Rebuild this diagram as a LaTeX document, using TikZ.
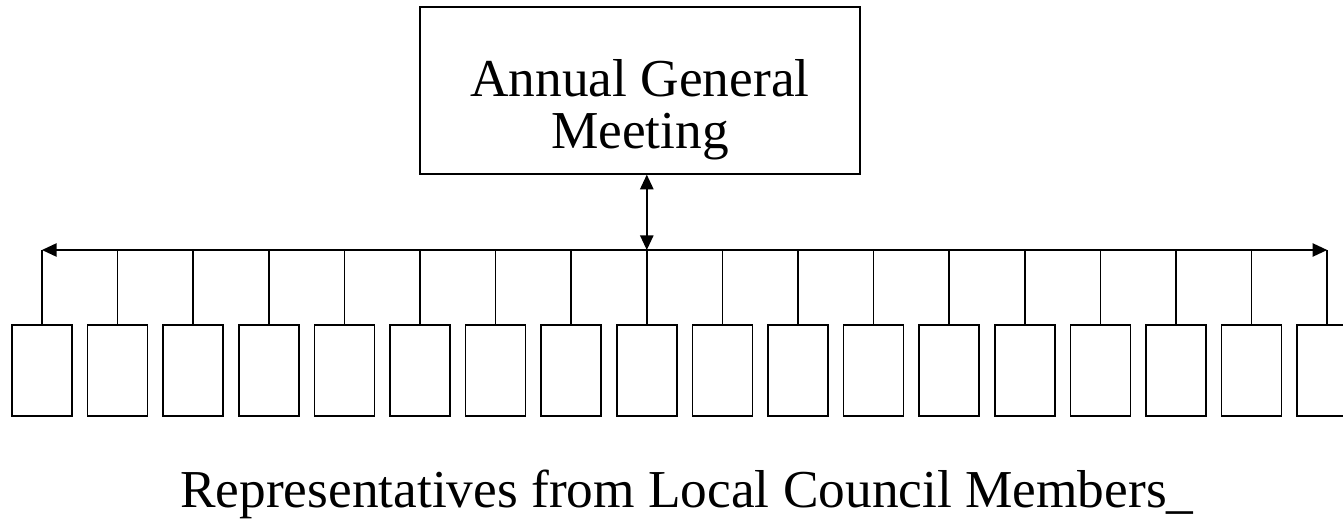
\documentclass[tikz,border=0pt]{standalone}
\usepackage{fontspec}
\setmainfont{Liberation Serif}
\usetikzlibrary{positioning,calc,arrows.meta}

\begin{document}
\begin{tikzpicture}[x=0.75pt, y=-0.75pt,
    meeting/.style={draw, rectangle, line width=1.2pt, minimum width=330pt, minimum height=125pt, align=center, text height=95pt, font=\fontsize{40}{39}\selectfont},
    member/.style={draw, rectangle, line width=1.3pt, minimum width=45pt, minimum height=68pt},
    link/.style={line width=1.2pt},
    tip/.style={line width=1.2pt, {Triangle[length=11pt,width=10pt]}-{Triangle[length=11pt,width=10pt]}}]

    \useasboundingbox (0,0) rectangle (1343,518);

    % Nodes
    \node[meeting] (AGM) at (640,90.5) {Annual General\\Meeting};
    \foreach \i in {1,...,18}
        \node[member] (R\i) at ({42+75.6*(\i-1)},370.5) {};
    \node[font=\fontsize{40}{40}\selectfont, anchor=base west, inner sep=0pt] (Reps) at (180,507) {Representatives from Local Council Members\_};

    % Bus
    \coordinate (BusL) at (R1.north |- 0,250);
    \coordinate (BusR) at (R18.north |- 0,250);
    \draw[tip] (BusL) -- (BusR);
    \draw[tip] (R9.north |- AGM.south) -- (R9.north |- BusL);
    \foreach \i in {1,...,18}
        \draw[link] (R\i.north) -- (R\i.north |- BusL);
\end{tikzpicture}
\end{document}
